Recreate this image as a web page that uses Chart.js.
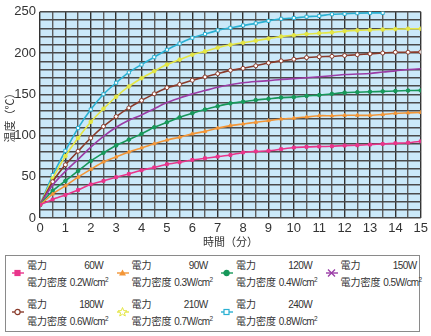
<!DOCTYPE html>
<html>
<head>
<meta charset="utf-8">
<script src="https://cdn.jsdelivr.net/npm/chart.js@4/dist/chart.umd.min.js"></script>
<style>
  body { margin:0; background:#fff; font-family:'Liberation Sans Narrow','Liberation Sans','Noto Sans CJK JP',sans-serif; }
  #wrap { position:absolute; left:0; top:0; width:431px; height:248px; }
  #legend { position:absolute; left:5px; top:255px; width:413px; height:75px; border:1.5px solid #8a8a8a; }
  .item { position:absolute; width:104px; height:38px; font-size:10px; color:#333; }
  .item svg { position:absolute; left:0; top:11px; }
  .txt { position:absolute; left:15px; top:0; width:76px; line-height:17px; }
  .row { display:flex; justify-content:space-between; white-space:nowrap; }
  .num { letter-spacing:-0.6px; font-size:10px; }
  .row sup { font-size:6.5px; line-height:0; letter-spacing:0; }
</style>
</head>
<body>
<div id="wrap"><canvas id="chart"></canvas></div>
<div id="legend"></div>
<script>
// 時間（分）
const minutes = [0,0.5,1,1.5,2,2.5,3,3.5,4,4.5,5,5.5,6,6.5,7,7.5,8,8.5,9,9.5,10,10.5,11,11.5,12,12.5,13,13.5,14,14.5,15];

// 温度（℃）
const temp60  = [16,22.5,28,34,40.8,45,49.5,53.4,57.8,61.3,65.2,67.6,70.4,72.4,74.4,76.4,79.5,80.7,81.5,83.5,85.4,86.2,86.6,87,87.8,88.2,89,89.8,90.6,91.3,93];
const temp90  = [16,29,39,49.5,59,68,74,80,85,90,94.5,98,102,105,109,112,114,116,118,120,121,122.5,124,124,124.5,124.5,124.5,125.5,127,127.5,128];
const temp120 = [16,33,45,57,69,79,88,95,102,110,116,122,127,131.5,135.5,139,141,143,144.5,146,146.5,148,149,150.5,152,152.5,153,153.5,154,154.5,154.7];
const temp150 = [16,40,56.6,71,86,99,110,118.5,125,132.5,140,145.5,150.5,154.5,158.5,161.5,164,165.5,166.5,168,169,170,171.3,172.5,174,174.5,175.2,177,178.4,180,181];
const temp180 = [16,44,64.5,81,97,111,123,133.5,142.5,150.5,158,162,167,171,175,179,181.5,184.5,188,190.5,192.5,194.5,195.5,196,197,198,199,200,201,201,201.3];
const temp210 = [16,48,75,97,116.5,132.5,147,159.5,169.5,178,186,192,198,202,206.5,210,212.5,215,217.5,220,221.5,223,224,225,226.5,227.5,228,228.5,229,229.5,229.5];
const temp240 = [16,52,81.5,109,131.5,150,164,176.5,186,195,204,211.5,218.5,223,227.5,230.5,233.5,236,239,241.5,242.5,244,245,247,247.5,248.3,248.7,248.7];

const powers    = ['60W','90W','120W','150W','180W','210W','240W'];
const densities = ['0.2','0.3','0.4','0.5','0.6','0.7','0.8'];

const xTicks = [0,1,2,3,4,5,6,7,8,9,10,11,12,13,14,15];
const yTicks = [0,50,100,150,200,250];
// 目盛線（10℃ごと）
const yGrid = [0,10,20,30,40,50,60,70,80,90,100,110,120,130,140,150,160,170,180,190,200,210,220,230,240,250];

const series = [
  {data:temp60,  color:'#e9358b', style:'rect',     fill:true,  r:2},
  {data:temp90,  color:'#f39637', style:'triangle', fill:true,  r:2},
  {data:temp120, color:'#17985a', style:'circle',   fill:true,  r:1.8},
  {data:temp150, color:'#9a3ca6', style:'crossRot', fill:true,  r:0},
  {data:temp180, color:'#8a3b2b', style:'circle',   fill:false, r:2},
  {data:temp210, color:'#e4e645', style:'star',     fill:true,  r:1.8},
  {data:temp240, color:'#2ab0d2', style:'rect',     fill:false, r:2.2},
];

// 背景（水色）
const plotBg = {
  id:'plotBg',
  beforeDraw(chart){
    const {ctx, chartArea:a} = chart;
    ctx.save();
    ctx.fillStyle = '#cbe9f9';
    ctx.fillRect(a.left, a.top, a.width, a.height);
    ctx.restore();
  }
};

const tickFont = {family:"'Liberation Sans Narrow','Liberation Sans',sans-serif", size:13};
const titleFont = {family:"'Noto Sans CJK JP',sans-serif", size:11};

new Chart(document.getElementById('chart'), {
  type:'line',
  data:{
    datasets: series.map(s => ({
      data: s.data.map((v,i) => ({x:minutes[i], y:v})),
      borderColor: s.color,
      backgroundColor: s.fill ? s.color : '#fff',
      pointBorderColor: s.color,
      pointBackgroundColor: s.fill ? s.color : '#fff',
      pointStyle: s.style === 'star' ? 'circle' : s.style,
      pointRadius: s.r,
      pointBorderWidth: 1,
      borderWidth: 1.6,
      tension: 0.25
    }))
  },
  plugins:[plotBg],
  options:{
    responsive:true,
    maintainAspectRatio:false,
    animation:false,
    layout:{padding:{left:0, right:10, top:7, bottom:0}},
    plugins:{legend:{display:false}, tooltip:{enabled:false}},
    scales:{
      x:{
        type:'linear', min:0, max:15,
        afterBuildTicks: s => { s.ticks = minutes.map(v => ({value:v})); },
        afterFit: s => { s.height = 30; },
        grid:{
          drawTicks:false,
          color: c => Number.isInteger(c.tick.value) ? '#333' : '#5e5e5e',
          lineWidth: 1.4
        },
        border:{display:false},
        ticks:{
          autoSkip:false, maxRotation:0, padding:3, color:'#333', font:tickFont,
          callback: v => xTicks.includes(v) ? v : ' '
        },
        title:{display:true, text:'時間（分）', color:'#333', font:titleFont, padding:{top:0, bottom:0}}
      },
      y:{
        min:0, max:250,
        afterBuildTicks: s => { s.ticks = yGrid.map(v => ({value:v})); },
        ticks:{autoSkip:false, padding:4, color:'#333', font:tickFont,
          callback: v => yTicks.includes(v) ? v : ' '},
        afterFit: s => { s.width = 40; },
        grid:{drawTicks:false, color:'#4a4a4a', lineWidth:1.4},
        border:{display:false},
        title:{display:true, text:'温度（℃）', color:'#333', font:titleFont, padding:{top:3, bottom:0}}
      }
    }
  }
});

// 凡例
function icon(s){
  const c = s.color, f = s.fill ? c : '#fff';
  let m = '';
  if (s.style === 'rect') m = `<rect x="3" y="2.5" width="5" height="5" fill="${f}" stroke="${c}" stroke-width="1.2"/>`;
  if (s.style === 'triangle') m = `<polygon points="5.5,1.5 9,7.5 2,7.5" fill="${c}"/>`;
  if (s.style === 'circle') m = `<circle cx="5.5" cy="5" r="2.6" fill="${f}" stroke="${c}" stroke-width="1.2"/>`;
  if (s.style === 'crossRot') m = `<path d="M2,1.5 L9,8.5 M9,1.5 L2,8.5" stroke="${c}" stroke-width="1.3"/>`;
  if (s.style === 'star') m = `<polygon points="5.5,0.5 6.7,3.6 9.9,3.8 7.4,5.8 8.3,9 5.5,7.2 2.7,9 3.6,5.8 1.1,3.8 4.3,3.6" fill="#fff" stroke="${c}" stroke-width="1"/>`;
  return `<svg width="12" height="10"><line x1="0" y1="5" x2="12" y2="5" stroke="${c}" stroke-width="1.4"/>${m}</svg>`;
}

const legend = document.getElementById('legend');
series.forEach((s,i) => {
  const col = i % 4, row = Math.floor(i / 4);
  const el = document.createElement('div');
  el.className = 'item';
  el.style.left = (6 + col * 104.5) + 'px';
  el.style.top = (1 + row * 39) + 'px';
  el.innerHTML = icon(s) +
    `<div class="txt"><div class="row"><span>電力</span><span class="num">${powers[i]}</span></div>` +
    `<div class="row"><span>電力密度 <span class="num">${densities[i]}W/cm<sup>2</sup></span></span></div></div>`;
  legend.appendChild(el);
});
</script>
</body>
</html>
